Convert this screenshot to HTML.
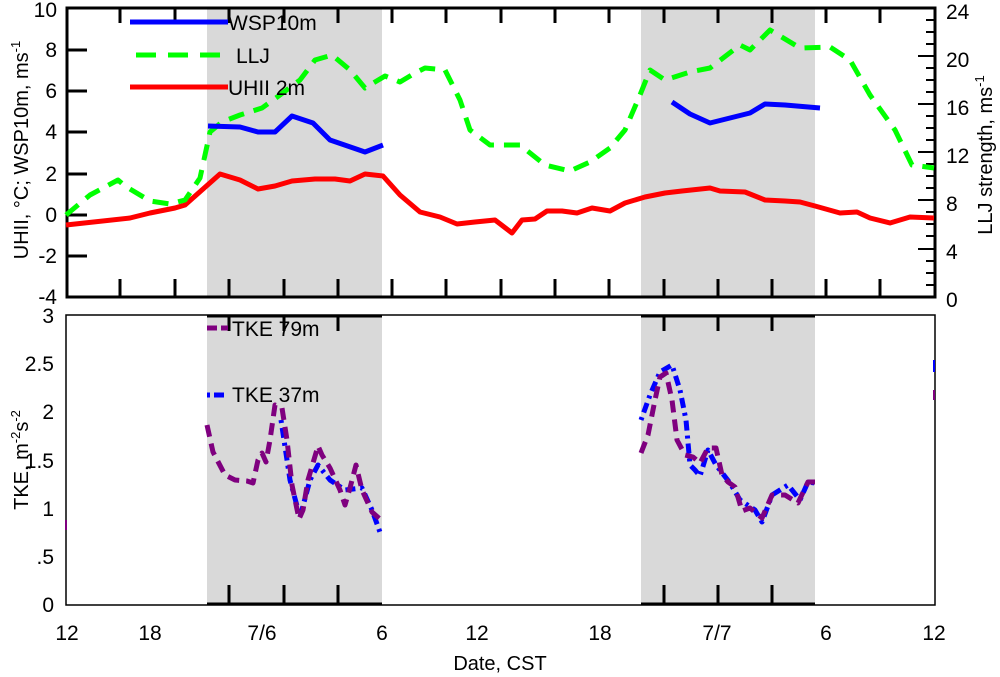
<!DOCTYPE html>
<html><head><meta charset="utf-8"><style>
html,body{margin:0;padding:0;background:#fff;}
svg{display:block;font-family:"Liberation Sans",sans-serif;}
</style></head><body>
<svg width="1000" height="677" viewBox="0 0 1000 677" xmlns="http://www.w3.org/2000/svg">
<rect x="207" y="8" width="175" height="289" fill="#d9d9d9"/>
<rect x="641" y="8" width="174" height="289" fill="#d9d9d9"/>
<rect x="207" y="315" width="175" height="290" fill="#d9d9d9"/>
<rect x="641" y="315" width="174" height="290" fill="#d9d9d9"/>

<rect x="67" y="8" width="868" height="289" fill="none" stroke="#000" stroke-width="3"/>
<g stroke="#000" stroke-width="3">
<line x1="120" y1="8" x2="120" y2="23"/><line x1="175" y1="8" x2="175" y2="23"/><line x1="229" y1="8" x2="229" y2="23"/><line x1="284" y1="8" x2="284" y2="23"/><line x1="338" y1="8" x2="338" y2="23"/><line x1="392" y1="8" x2="392" y2="23"/><line x1="446" y1="8" x2="446" y2="23"/><line x1="501" y1="8" x2="501" y2="23"/><line x1="555" y1="8" x2="555" y2="23"/><line x1="609" y1="8" x2="609" y2="23"/><line x1="664" y1="8" x2="664" y2="23"/><line x1="718" y1="8" x2="718" y2="23"/><line x1="772" y1="8" x2="772" y2="23"/><line x1="826" y1="8" x2="826" y2="23"/><line x1="880" y1="8" x2="880" y2="23"/>
<line x1="120" y1="297" x2="120" y2="279"/><line x1="175" y1="297" x2="175" y2="279"/><line x1="229" y1="297" x2="229" y2="279"/><line x1="284" y1="297" x2="284" y2="279"/><line x1="338" y1="297" x2="338" y2="279"/><line x1="392" y1="297" x2="392" y2="279"/><line x1="446" y1="297" x2="446" y2="279"/><line x1="501" y1="297" x2="501" y2="279"/><line x1="555" y1="297" x2="555" y2="279"/><line x1="609" y1="297" x2="609" y2="279"/><line x1="664" y1="297" x2="664" y2="279"/><line x1="718" y1="297" x2="718" y2="279"/><line x1="772" y1="297" x2="772" y2="279"/><line x1="826" y1="297" x2="826" y2="279"/><line x1="880" y1="297" x2="880" y2="279"/>
<line x1="67" y1="50" x2="87" y2="50"/><line x1="67" y1="91" x2="87" y2="91"/><line x1="67" y1="132" x2="87" y2="132"/><line x1="67" y1="174" x2="87" y2="174"/><line x1="67" y1="215" x2="87" y2="215"/><line x1="67" y1="256" x2="87" y2="256"/>
</g>
<g stroke="#000" stroke-width="2">
<line x1="935" y1="20" x2="926" y2="20"/><line x1="935" y1="32" x2="926" y2="32"/><line x1="935" y1="44" x2="926" y2="44"/><line x1="935" y1="56" x2="918" y2="56"/><line x1="935" y1="68" x2="926" y2="68"/><line x1="935" y1="80" x2="926" y2="80"/><line x1="935" y1="92" x2="926" y2="92"/><line x1="935" y1="104" x2="918" y2="104"/><line x1="935" y1="116" x2="926" y2="116"/><line x1="935" y1="128" x2="926" y2="128"/><line x1="935" y1="140" x2="926" y2="140"/><line x1="935" y1="152" x2="918" y2="152"/><line x1="935" y1="164" x2="926" y2="164"/><line x1="935" y1="176" x2="926" y2="176"/><line x1="935" y1="188" x2="926" y2="188"/><line x1="935" y1="200" x2="918" y2="200"/><line x1="935" y1="212" x2="926" y2="212"/><line x1="935" y1="224" x2="926" y2="224"/><line x1="935" y1="236" x2="926" y2="236"/><line x1="935" y1="249" x2="918" y2="249"/><line x1="935" y1="261" x2="926" y2="261"/><line x1="935" y1="273" x2="926" y2="273"/><line x1="935" y1="285" x2="926" y2="285"/>
</g>
<g font-size="21" text-anchor="end" fill="#000">
<text x="57" y="17">10</text><text x="57" y="57">8</text><text x="57" y="98">6</text><text x="57" y="139">4</text><text x="57" y="181">2</text><text x="57" y="222">0</text><text x="57" y="263">-2</text><text x="57" y="304">-4</text>
</g>
<g font-size="21" text-anchor="start" fill="#000">
<text x="946" y="19">24</text><text x="946" y="67">20</text><text x="946" y="115">16</text><text x="946" y="163">12</text><text x="946" y="211">8</text><text x="946" y="259">4</text><text x="946" y="307">0</text>
</g>
<text transform="translate(28,150) rotate(-90)" font-size="20" text-anchor="middle">UHII, °C; WSP10m, ms<tspan font-size="13" dy="-8">-1</tspan></text>
<text transform="translate(992,155) rotate(-90)" font-size="20" text-anchor="middle">LLJ strength, ms<tspan font-size="13" dy="-8">-1</tspan></text>

<polyline fill="none" stroke="#ff0000" stroke-width="5" stroke-linejoin="round" points="66,225 130,218 150,213 175,208 185,205 220,174 240,180 258,189 275,186 292,181 315,179 335,179 350,181 365,174 383,176 400,195 420,212 440,217 457,224 475,222 495,220 512,233 522,220 535,219 547,211 562,211 577,213 592,208 610,211 625,203 645,197 665,193 682,191 710,188 720,191 745,192 765,200 785,201 800,202 815,206 840,213 857,212 870,218 890,223 910,217 934,218"/>
<polyline fill="none" stroke="#00ff00" stroke-width="5" stroke-dasharray="16,10" stroke-linejoin="round" points="66,215 90,195 118,180 125,186 150,201 170,204 185,200 200,178 210,132 222,122 240,115 262,108 280,95 300,80 315,60 332,55 350,70 365,88 385,76 400,82 415,73 425,68 445,70 460,100 470,130 490,145 520,145 545,165 570,171 590,162 610,148 625,130 640,95 650,70 665,80 690,72 710,68 740,45 750,50 770,30 800,48 830,47 850,60 870,95 895,130 912,165 934,168"/>
<polyline fill="none" stroke="#0000ff" stroke-width="5" stroke-linejoin="round" points="208,126 240,127 258,132 275,132 292,116 313,123 330,140 365,152 383,145"/>
<polyline fill="none" stroke="#0000ff" stroke-width="5" stroke-linejoin="round" points="672,102 690,114 710,123 730,118 750,113 765,104 785,105 820,108"/>

<line x1="130" y1="22" x2="228" y2="22" stroke="#0000ff" stroke-width="5"/>
<text x="228" y="30" font-size="21">WSP10m</text>
<line x1="136" y1="55" x2="228" y2="55" stroke="#00ff00" stroke-width="5" stroke-dasharray="20,12"/>
<text x="236" y="63" font-size="21">LLJ</text>
<line x1="130" y1="87" x2="228" y2="87" stroke="#ff0000" stroke-width="5"/>
<text x="228" y="95" font-size="21">UHII 2m</text>

<rect x="66" y="315" width="869" height="290" fill="none" stroke="#000" stroke-width="1.5"/>
<g stroke="#000" stroke-width="3">
<line x1="207" y1="316" x2="382" y2="316"/><line x1="641" y1="316" x2="815" y2="316"/>
<line x1="207" y1="604" x2="382" y2="604"/><line x1="641" y1="604" x2="815" y2="604"/>
<line x1="229" y1="316" x2="229" y2="331"/><line x1="284" y1="316" x2="284" y2="331"/><line x1="338" y1="316" x2="338" y2="331"/>
<line x1="229" y1="604" x2="229" y2="585"/><line x1="284" y1="604" x2="284" y2="585"/><line x1="338" y1="604" x2="338" y2="585"/>
<line x1="664" y1="316" x2="664" y2="331"/><line x1="718" y1="316" x2="718" y2="331"/><line x1="772" y1="316" x2="772" y2="331"/>
<line x1="664" y1="604" x2="664" y2="585"/><line x1="718" y1="604" x2="718" y2="585"/><line x1="772" y1="604" x2="772" y2="585"/>
</g>
<g font-size="21" text-anchor="end" fill="#000">
<text x="54" y="323">3</text><text x="54" y="371">2.5</text><text x="54" y="419">2</text><text x="54" y="468">1.5</text><text x="54" y="516">1</text><text x="54" y="564">.5</text><text x="54" y="612">0</text>
</g>
<text transform="translate(28,460) rotate(-90)" font-size="20" text-anchor="middle">TKE, m<tspan font-size="13" dy="-8">-2</tspan><tspan dy="8">s</tspan><tspan font-size="13" dy="-8">-2</tspan></text>

<polyline fill="none" stroke="#0000ff" stroke-width="5" stroke-dasharray="3,5,10,5" stroke-linejoin="round" points="281,420 290,480 300,517 310,480 318,465 330,480 345,490 362,488 372,510 381,535"/>
<polyline fill="none" stroke="#0000ff" stroke-width="5" stroke-dasharray="3,5,10,5" stroke-linejoin="round" points="641,420 650,395 660,372 672,365 680,390 686,420 690,465 695,470 700,476 708,450 716,465 730,483 740,500 755,510 762,522 772,495 788,485 800,500 808,482 815,483"/>
<polyline fill="none" stroke="#7f007f" stroke-width="5" stroke-dasharray="12,7" stroke-linejoin="round" points="207,425 213,452 225,475 235,480 247,481 253,483 258,460 262,453 266,462 270,440 275,405 282,408 287,440 292,485 299,519 303,510 308,480 318,446 322,455 330,468 340,490 345,505 350,488 356,465 362,490 372,512 381,520"/>
<polyline fill="none" stroke="#7f007f" stroke-width="5" stroke-dasharray="12,7" stroke-linejoin="round" points="641,453 648,435 655,400 660,377 666,373 672,400 677,440 685,455 693,457 700,463 708,448 716,448 722,475 728,482 735,487 742,511 750,508 762,518 772,495 785,495 798,503 808,482 815,482"/>
<line x1="66" y1="520" x2="66" y2="530" stroke="#7f007f" stroke-width="2"/>
<line x1="934" y1="360" x2="934" y2="372" stroke="#0000ff" stroke-width="2"/>
<line x1="934" y1="390" x2="934" y2="400" stroke="#7f007f" stroke-width="2"/>

<line x1="207" y1="328" x2="228" y2="328" stroke="#7f007f" stroke-width="5" stroke-dasharray="10,4"/>
<text x="232" y="336" font-size="21">TKE 79m</text>
<line x1="207" y1="395" x2="228" y2="395" stroke="#0000ff" stroke-width="5" stroke-dasharray="3,4,10,4"/>
<text x="232" y="402" font-size="21">TKE 37m</text>

<g font-size="21" text-anchor="middle">
<text x="67" y="640">12</text><text x="150" y="640">18</text><text x="262" y="640">7/6</text><text x="382" y="640">6</text><text x="477" y="640">12</text><text x="600" y="640">18</text><text x="717" y="640">7/7</text><text x="826" y="640">6</text><text x="934" y="640">12</text>
</g>
<text x="500" y="670" font-size="20" text-anchor="middle">Date, CST</text>
</svg>
</body></html>
